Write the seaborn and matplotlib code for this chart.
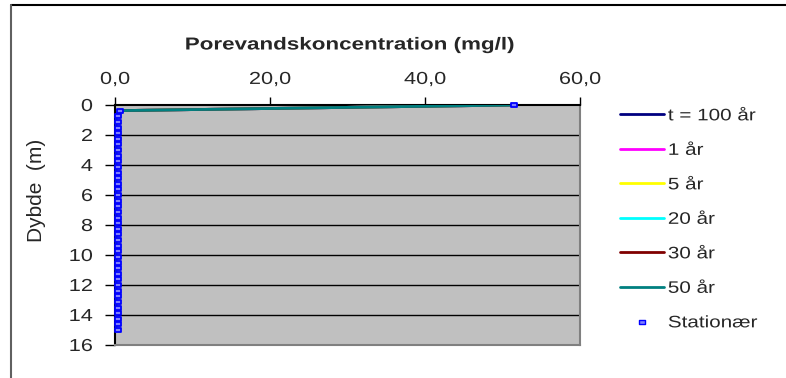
import matplotlib
matplotlib.use("Agg")
import matplotlib.pyplot as plt
import seaborn as sns
import pandas as pd
from matplotlib.lines import Line2D
from matplotlib.path import Path
from matplotlib.patheffects import AbstractPathEffect
from matplotlib.transforms import Affine2D

sns.set_theme(style="white")
plt.rcParams["font.family"] = ["Liberation Sans", "DejaVu Sans"]

# Depth below surface (m)
depth = [0.0, 0.375, 0.75, 1.125, 1.5, 1.875, 2.25, 2.625, 3.0, 3.375,
         3.75, 4.125, 4.5, 4.875, 5.25, 5.625, 6.0, 6.375, 6.75, 7.125,
         7.5, 7.875, 8.25, 8.625, 9.0, 9.375, 9.75, 10.125, 10.5, 10.875,
         11.25, 11.625, 12.0, 12.375, 12.75, 13.125, 13.5, 13.875, 14.25,
         14.625, 15.0]

# Pore water concentration (mg/l) for each time step
t100 = [51.5, 0.6] + [0.1] * 39
t1 = [51.5, 0.5] + [0.1] * 39
t5 = [51.5, 0.5] + [0.1] * 39
t20 = [51.5, 0.55] + [0.1] * 39
t30 = [51.5, 0.55] + [0.1] * 39
t50 = [51.5, 0.6] + [0.1] * 39
stationaer = [51.5, 0.65] + [0.4] * 39

series_names = ["t = 100 år", "1 år", "5 år", "20 år", "30 år", "50 år"]
series_values = [t100, t1, t5, t20, t30, t50]
series_colors = ["#000080", "#FF00FF", "#FFFF00", "#00FFFF", "#800000", "#008080"]

x_ticks = [0, 20, 40, 60]
x_ticklabels = ["0,0", "20,0", "40,0", "60,0"]
y_ticks = [0, 2, 4, 6, 8, 10, 12, 14, 16]


class WideText(AbstractPathEffect):
    """Draw text widened along its baseline, anchored left, centre or right."""

    def __init__(self, sx=1.28, anchor="center"):
        super().__init__()
        self.sx = sx
        self.anchor = anchor

    def draw_path(self, renderer, gc, tpath, affine, rgbFace=None):
        ext = tpath.get_extents()
        if self.anchor == "left":
            cx = 0.0
        elif self.anchor == "right":
            cx = ext.x1
        else:
            cx = 0.5 * (ext.x0 + ext.x1)
        t = Affine2D().translate(-cx, 0).scale(self.sx, 1).translate(cx, 0) + affine
        renderer.draw_path(gc, tpath, t, rgbFace)


frames = [pd.DataFrame({"konc": v, "dybde": depth, "serie": n})
          for n, v in zip(series_names, series_values)]
df = pd.concat(frames, ignore_index=True)
df_stat = pd.DataFrame({"konc": stationaer, "dybde": depth})

# flat rectangular marker for the steady-state profile
rect = Path([(-1, -0.6), (1, -0.6), (1, 0.6), (-1, 0.6), (-1, -0.6)],
            [Path.MOVETO, Path.LINETO, Path.LINETO, Path.LINETO, Path.CLOSEPOLY])

fig = plt.figure(figsize=(7.86, 3.78), dpi=100)
W, H = 786, 378
ax = fig.add_axes([115 / W, (H - 345) / H, 465 / W, 240 / H])
ax.set_facecolor("#C0C0C0")

sns.lineplot(data=df, x="konc", y="dybde", hue="serie", hue_order=series_names,
             palette=dict(zip(series_names, series_colors)), sort=False,
             estimator=None, linewidth=2, legend=False, ax=ax, zorder=3)
sns.scatterplot(data=df_stat, x="konc", y="dybde", marker=rect, s=24,
                color="#8080FF", edgecolor="#0000FF", linewidth=1.3,
                ax=ax, zorder=4, legend=False, clip_on=False)

ax.set_xlim(0, 60)
ax.set_ylim(16, 0)
ax.xaxis.tick_top()
ax.xaxis.set_label_position("top")
ax.set_xticks(x_ticks)
ax.set_xticklabels(x_ticklabels)
ax.set_yticks(y_ticks)
ax.tick_params(axis="x", top=True, bottom=False, direction="out", length=6,
               width=1, color="black", labelsize=12.5, pad=7)
ax.tick_params(axis="y", left=True, direction="out", length=7, width=1,
               color="black", labelsize=12.5, pad=9)
ax.set_xlabel("")
ax.set_ylabel("Dybde  (m)", fontsize=15)
ax.yaxis.set_label_coords(-69 / 465, (345 - 190) / 240)

for yv in y_ticks[1:-1]:
    ax.axhline(yv, color="black", linewidth=1, zorder=1)

ax.spines["top"].set_color("black")
ax.spines["left"].set_color("black")
ax.spines["right"].set_color("#808080")
ax.spines["bottom"].set_color("#808080")
for s in ax.spines.values():
    s.set_linewidth(1.5)
    s.set_visible(True)

for lbl in ax.get_xticklabels():
    lbl.set_path_effects([WideText(1.25, "center")])
for lbl in ax.get_yticklabels():
    lbl.set_path_effects([WideText(1.25, "right")])

title = fig.text(350 / W, 1 - 45 / H, "Porevandskoncentration (mg/l)",
                 ha="center", va="center", fontsize=12.5, fontweight="bold")
title.set_path_effects([WideText(1.29, "center")])

handles = [Line2D([], [], color=c, linewidth=2) for c in series_colors]
handles.append(Line2D([], [], linestyle="none", marker=rect, markersize=4,
                      markerfacecolor="#8080FF", markeredgecolor="#0000FF"))
labels = series_names + ["Stationær"]
leg = fig.legend(handles, labels, loc="upper left",
                 bbox_to_anchor=(612 / W, 1 - 100 / H), frameon=False,
                 fontsize=12, handlelength=2.6, handletextpad=0.25,
                 labelspacing=1.17, borderpad=0)
for txt in leg.get_texts():
    txt.set_path_effects([WideText(1.24, "left")])

# thin frame along top and left of the chart area
fig.add_artist(Line2D([11 / W, 1], [1 - 5 / H, 1 - 5 / H], color="black",
                      linewidth=1.5, transform=fig.transFigure))
fig.add_artist(Line2D([11 / W, 11 / W], [0, 1 - 5 / H], color="#606060",
                      linewidth=1.5, transform=fig.transFigure))

fig.savefig("out.png", dpi=100, facecolor="white")
